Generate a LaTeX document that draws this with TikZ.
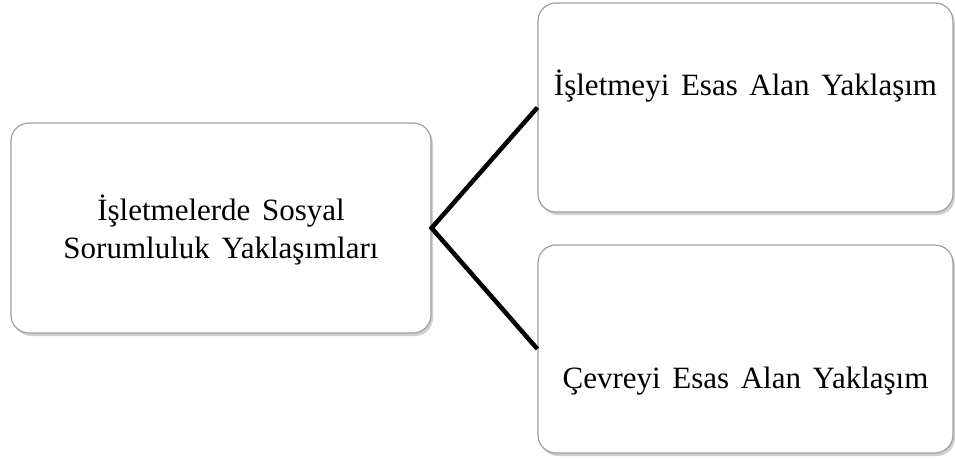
\documentclass[tikz,border=0pt]{standalone}
\usepackage{fontspec}
\setmainfont{Liberation Serif}[WordSpace=1.5]
\usetikzlibrary{positioning,shadows,calc}
\tikzset{
	kutu/.style={draw=gray!75, line width=1.2pt, fill=white, rounded corners=18pt,
		drop shadow={shadow xshift=2pt, shadow yshift=-3pt, fill=gray!60, opacity=0.6},
		inner sep=0pt},
	yazi/.style={font=\fontsize{31}{38}\selectfont, align=center},
	kol/.style={line width=4.5pt, black}
}
\begin{document}
\begin{tikzpicture}[x=1pt, y=-1pt]
		\useasboundingbox (0,0) rectangle (955,458);
		% kutular
		\node[kutu, minimum width=420pt, minimum height=210pt] (ana) at (221,228) {};
		\node[kutu, minimum width=415pt, minimum height=209pt] (ust) at (745.5,107.5) {};
		\node[kutu, minimum width=415pt, minimum height=208pt] (alt) at (745.5,349) {};
		% yazilar
		\node[yazi] (anayazi) at ($(ana.center)+(0,2)$) {İşletmelerde Sosyal\\Sorumluluk Yaklaşımları};
		\node[yazi] (ustyazi) at ($(ust.center)+(0,-21)$) {İşletmeyi Esas Alan Yaklaşım};
		\node[yazi] (altyazi) at ($(alt.center)+(0,32)$) {Çevreyi Esas Alan Yaklaşım};
		% baglantilar
		\draw[kol] (ust.west) -- (ana.east) -- (alt.west);
	\end{tikzpicture}
\end{document}
